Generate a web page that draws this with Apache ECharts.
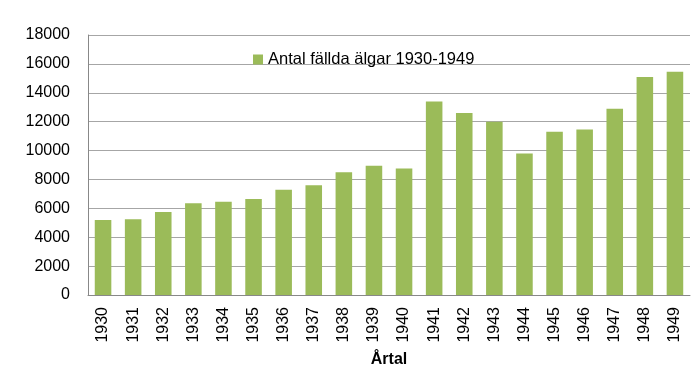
<!DOCTYPE html>
<html>
<head>
<meta charset="utf-8">
<script src="https://cdn.jsdelivr.net/npm/echarts@6/dist/echarts.min.js"></script>
<style>html,body{margin:0;padding:0;background:#fff}#c{width:700px;height:383px}</style>
</head>
<body>
<div id="c"></div>
<script>
const years = ['1930','1931','1932','1933','1934','1935','1936','1937','1938','1939','1940','1941','1942','1943','1944','1945','1946','1947','1948','1949'];
const values = [5200,5250,5750,6350,6450,6650,7280,7600,8500,8950,8750,13400,12600,12000,9800,11300,11450,12900,15100,15450];
const seriesName = 'Antal fällda älgar 1930-1949';
const xAxisTitle = 'Årtal';

const chart = echarts.init(document.getElementById('c'), null, {renderer:'canvas'});
chart.setOption({
  animation: false,
  textStyle: {fontFamily: 'Liberation Sans, Arial, sans-serif'},
  grid: {left: 88, right: 10, top: 35, bottom: 88, containLabel: false},
  legend: {
    left: 248, top: 46,
    itemWidth: 10, itemHeight: 10, itemGap: 5,
    icon: 'rect',
    textStyle: {fontSize: 16.5, color: '#000', padding: [0,0,0,0]},
    data: [seriesName]
  },
  xAxis: {
    type: 'category',
    data: years,
    name: xAxisTitle,
    nameLocation: 'middle',
    nameGap: 57,
    nameTextStyle: {fontSize: 16, fontWeight: 'bold', color: '#000'},
    axisLine: {lineStyle: {color: '#888', width: 1}},
    axisTick: {show: false},
    axisLabel: {rotate: 90, fontSize: 16, color: '#000', margin: 12, interval: 0}
  },
  yAxis: {
    type: 'value',
    min: 0, max: 18000, interval: 2000,
    axisLine: {show: true, lineStyle: {color: '#888', width: 1}},
    axisTick: {show: false},
    axisLabel: {fontSize: 16, color: '#000', margin: 18, formatter: v => String(v)},
    splitLine: {lineStyle: {color: '#a6a6a6', width: 1}}
  },
  series: [{
    name: seriesName,
    type: 'bar',
    data: values,
    barWidth: '55%',
    itemStyle: {color: '#9BBB59'}
  }]
});
</script>
</body>
</html>
